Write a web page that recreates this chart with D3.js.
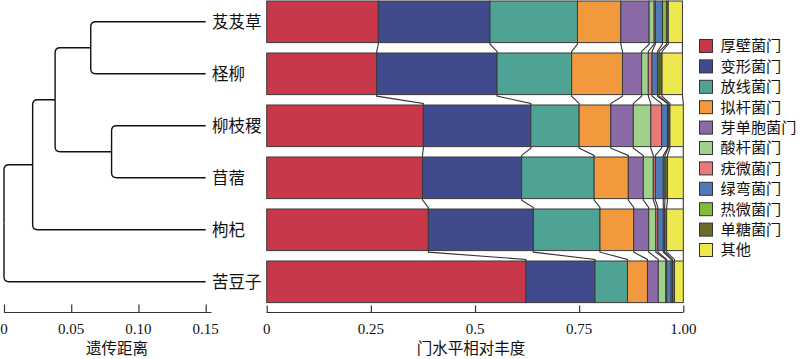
<!DOCTYPE html>
<html><head><meta charset="utf-8">
<script src="https://cdn.jsdelivr.net/npm/d3@7"></script>
<style>
html,body{margin:0;padding:0;background:#fff;}
svg{display:block;}
</style></head>
<body>
<svg id="chart" width="800" height="359"></svg>
<script>
const samples = ["芨芨草","柽柳","柳枝稷","苜蓿","枸杞","苦豆子"];
const phyla = ["厚壁菌门","变形菌门","放线菌门","拟杆菌门","芽单胞菌门","酸杆菌门","疣微菌门","绿弯菌门","热微菌门","单糖菌门","其他"];
const colors = ["#C8374A","#414A8C","#4FA394","#F3993D","#8A6BA8","#9FD18A","#E97A7A","#5079B8","#84BA3A","#6E6A2E","#EDE84E"];
const firmicutes      = [0.268,0.264,0.376,0.374,0.388,0.622];
const proteobacteria  = [0.268,0.289,0.258,0.238,0.252,0.166];
const actinobacteria  = [0.210,0.179,0.116,0.174,0.160,0.078];
const bacteroidetes   = [0.104,0.122,0.076,0.082,0.081,0.048];
const gemmatimonadetes= [0.068,0.046,0.054,0.036,0.036,0.026];
const acidobacteria   = [0.012,0.016,0.042,0.024,0.017,0.018];
const verrucomicrobia = [0.003,0.009,0.026,0.005,0.005,0.002];
const chloroflexi     = [0.017,0.013,0.014,0.019,0.013,0.011];
const thermomicrobia  = [0.010,0.004,0.002,0.004,0.003,0.003];
const saccharibacteria= [0.004,0.007,0.004,0.006,0.005,0.005];
const others          = [0.034,0.049,0.032,0.038,0.040,0.021];
const seriesValues = [firmicutes,proteobacteria,actinobacteria,bacteroidetes,gemmatimonadetes,acidobacteria,verrucomicrobia,chloroflexi,thermomicrobia,saccharibacteria,others];
const abundanceTicks = [0,0.25,0.5,0.75,1.0];
const abundanceTickLabels = ["0","0.25","0.5","0.75","1.00"];
const distanceTicks = [0,0.05,0.10,0.15];
const distanceTickLabels = ["0","0.05","0.10","0.15"];
// dendrogram: node heights = genetic distance from root
const treeData = {d:0, children:[
  {d:0.0213, children:[
    {d:0.038, children:[
      {d:0.0645, children:[{name:"芨芨草",d:0.15},{name:"柽柳",d:0.15}]},
      {d:0.080, children:[{name:"柳枝稷",d:0.15},{name:"苜蓿",d:0.15}]}
    ]},
    {name:"枸杞",d:0.15}
  ]},
  {name:"苦豆子",d:0.15}
]};

const svg = d3.select("#chart");
const serif = "'Liberation Serif','Times New Roman',serif";
const cjk = "'Noto Sans CJK SC','Noto Sans',sans-serif";

const x = d3.scaleLinear().domain([0,1]).range([266.7,683.3]);
const y = d3.scaleBand().domain(samples).range([-4.2,307.8]).paddingInner(0.2).paddingOuter(0.1);
const xd = d3.scaleLinear().domain([0,0.15]).range([4,205.7]);

// stacked data
const rows = samples.map((s,i)=>{const o={sample:s}; phyla.forEach((p,j)=>o[p]=seriesValues[j][i]); return o;});
const stack = d3.stack().keys(phyla)(rows);

// connectors between bars
const conn = svg.append("g").attr("fill","none").attr("stroke","#333").attr("stroke-width",1.1);
for (let k=0;k<phyla.length;k++){
  for (let i=0;i<samples.length-1;i++){
    const x1 = x(stack[k][i][1]), x2 = x(stack[k][i+1][1]);
    const y1 = y(samples[i])+y.bandwidth(), y2 = y(samples[i+1]);
    const g = (y2-y1)*0.15;
    conn.append("path").attr("d",`M${x1},${y1}L${x1},${y1+g}L${x2},${y2-g}L${x2},${y2}`);
  }
}

// bars
const bars = svg.append("g");
stack.forEach((layer,k)=>{
  bars.selectAll(null).data(layer).enter().append("rect")
    .attr("x",d=>x(d[0])).attr("y",d=>y(d.data.sample))
    .attr("width",d=>Math.max(0,x(d[1])-x(d[0]))).attr("height",y.bandwidth())
    .attr("fill",colors[k]).attr("stroke","#3a3a3a").attr("stroke-width",1);
});

// abundance axis
const ax = svg.append("g").attr("transform","translate(0,312.5)")
  .call(d3.axisTop(x).tickValues(abundanceTicks).tickSize(7).tickFormat((d,i)=>""));
ax.select(".domain").attr("stroke","#333").attr("stroke-width",1.2).attr("d",`M${x(0)},0H${x(1)}`);
ax.selectAll(".tick line").attr("stroke","#333").attr("stroke-width",1.2);
svg.append("g").selectAll("text").data(abundanceTicks).enter().append("text")
  .attr("x",d=>x(d)).attr("y",334).attr("text-anchor","middle")
  .attr("font-family",serif).attr("font-size",15).attr("fill","#111")
  .text((d,i)=>abundanceTickLabels[i]);
svg.append("text").attr("x",471).attr("y",354).attr("text-anchor","middle")
  .attr("font-family",cjk).attr("font-size",15.5).attr("fill","#111").text("门水平相对丰度");

// dendrogram
const root = d3.hierarchy(treeData);
root.leaves().forEach(l=>{l.py = y(l.data.name)+y.bandwidth()/2;});
root.eachAfter(n=>{ if(n.children){ n.py = (n.children[0].py + n.children[n.children.length-1].py)/2; } n.px = xd(n.data.d); });
const dg = svg.append("g").attr("fill","none").attr("stroke","#111").attr("stroke-width",1.4);
const r = 5;
root.each(n=>{
  if(!n.children) return;
  n.children.forEach(c=>{
    const dir = c.py < n.py ? -1 : 1;
    dg.append("path").attr("d",
      `M${n.px},${n.py}L${n.px},${c.py - dir*r}Q${n.px},${c.py} ${n.px+r},${c.py}L${c.px},${c.py}`);
  });
});
svg.append("g").selectAll("text").data(root.leaves()).enter().append("text")
  .attr("x",212).attr("y",d=>d.py).attr("dy","0.36em")
  .attr("font-family",cjk).attr("font-size",16.5).attr("fill","#111")
  .text(d=>d.data.name);

// distance axis
const dax = svg.append("g").attr("transform","translate(0,312.5)")
  .call(d3.axisTop(xd).tickValues(distanceTicks).tickSize(8).tickFormat(()=>""));
dax.select(".domain").attr("stroke","#333").attr("stroke-width",1.2).attr("d",`M${xd(0)},0H211.5`);
dax.selectAll(".tick line").attr("stroke","#333").attr("stroke-width",1.2);
svg.append("g").selectAll("text").data(distanceTicks).enter().append("text")
  .attr("x",d=>xd(d)).attr("y",334).attr("text-anchor","middle")
  .attr("font-family",serif).attr("font-size",15).attr("fill","#111")
  .text((d,i)=>distanceTickLabels[i]);
svg.append("text").attr("x",117).attr("y",354).attr("text-anchor","middle")
  .attr("font-family",cjk).attr("font-size",15.5).attr("fill","#111").text("遗传距离");

// legend
const lg = svg.append("g");
const ly = d3.scalePoint().domain(phyla).range([39.5,243.5]);
phyla.forEach((p,k)=>{
  lg.append("rect").attr("x",699.5).attr("y",ly(p)).attr("width",13).attr("height",13)
    .attr("fill",colors[k]).attr("stroke","#333").attr("stroke-width",1);
  lg.append("text").attr("x",720.5).attr("y",ly(p)+6.5).attr("dy","0.36em")
    .attr("font-family",cjk).attr("font-size",15.2).attr("fill","#111").text(p);
});
</script>
</body></html>
